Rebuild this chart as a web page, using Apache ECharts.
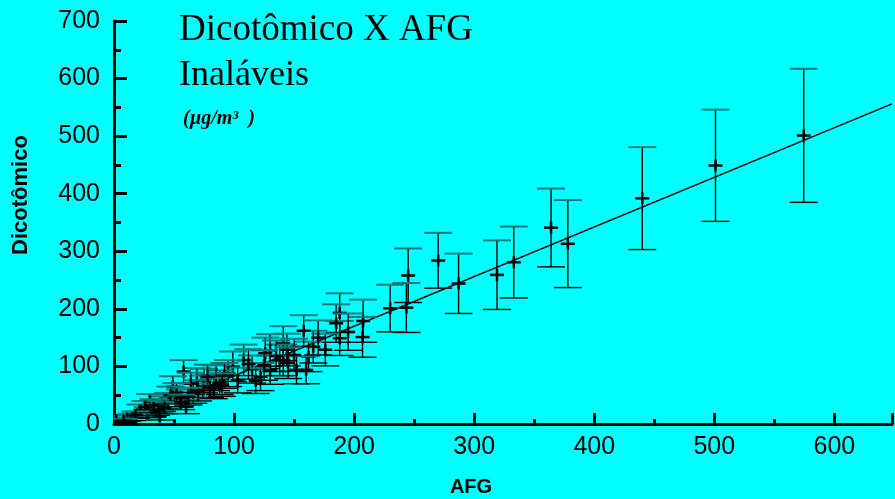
<!DOCTYPE html>
<html>
<head>
<meta charset="utf-8">
<script src="https://cdn.jsdelivr.net/npm/echarts@6/dist/echarts.min.js"></script>
<style>
html,body{margin:0;padding:0;background:#00ffff;}
#chart{width:895px;height:499px;}
</style>
</head>
<body>
<div id="chart"></div>
<script>
// AFG (x), Dicotômico (y), erro em y (±)
var afg  = [574.5, 501, 440, 378, 364, 333, 319, 287, 270, 245, 243.5, 230, 207.5, 207, 188, 188, 185, 176, 166, 162,
            158, 160, 152, 144, 141, 141, 138, 130, 126, 130, 122, 108, 99, 103, 95, 88, 80, 75, 69, 74,
            66, 58, 49, 60, 55, 45, 40, 38, 35, 30, 28, 22, 15, 11, 2, 38, 70, 85, 115, 135, 150,
            118, 112, 92, 83, 78, 64, 52, 47, 42, 33, 26, 18, 8, 90, 125, 145, 170, 195, 62, 56];
var dico = [501, 449, 392, 313, 341, 281, 259, 244, 284, 258, 202, 201, 179, 151, 193, 149, 175, 129, 134, 117,
            162, 94, 94, 129, 111, 140, 111, 128, 123, 94, 82, 111, 100, 76, 88, 72, 66, 75, 76, 65,
            53, 91, 65, 30, 45, 40, 35, 30, 25, 39, 20, 24, 12, 10, 7, 13, 58, 80, 95, 118, 120,
            75, 104, 84, 62, 82, 70, 55, 50, 28, 32, 30, 16, 6, 68, 102, 106, 150, 160, 48, 38];
var erro = [116, 97, 89, 76, 68, 62, 60, 52, 48, 47, 43, 41, 37, 35, 34, 30, 33, 28, 28, 26,
            27, 24, 24, 28, 27, 30, 27, 28, 27, 25, 24, 27, 26, 22, 23, 21, 20, 21, 21, 19,
            17, 20, 18, 12, 15, 14, 13, 12, 10, 13, 9, 10, 6, 5, 4, 6, 18, 22, 24, 27, 28,
            22, 26, 22, 18, 21, 19, 16, 15, 10, 11, 10, 6, 3, 20, 26, 27, 30, 32, 15, 13];

// reta ajustada
var fitX = [3, 648];
var fitY = [0, 556];

var xTicks = [0, 100, 200, 300, 400, 500, 600];
var yTicks = [0, 100, 200, 300, 400, 500, 600, 700];

var pontos = [];
for (var i = 0; i < afg.length; i++) {
	pontos.push([afg[i], dico[i], erro[i]]);
}
var linha = [];
for (var j = 0; j < fitX.length; j++) {
	linha.push([fitX[j], fitY[j]]);
}

function renderErrorBar(params, api) {
	var x = api.value(0), y = api.value(1), e = api.value(2);
	var c = api.coord([x, y]);
	var hi = api.coord([x, y + e]);
	var lo = api.coord([x, y - e]);
	var cap = 14;
	return {
		type: 'group',
		children: [
			{type: 'line', shape: {x1: c[0], y1: hi[1], x2: c[0], y2: lo[1]}, style: {stroke: '#000', lineWidth: 1.4}},
			{type: 'line', shape: {x1: c[0] - cap, y1: hi[1], x2: c[0] + cap, y2: hi[1]}, style: {stroke: '#067a7a', lineWidth: 2}},
			{type: 'line', shape: {x1: c[0] - cap, y1: lo[1], x2: c[0] + cap, y2: lo[1]}, style: {stroke: '#000', lineWidth: 1.4}},
			{type: 'line', shape: {x1: c[0] - 7, y1: c[1], x2: c[0] + 7, y2: c[1]}, style: {stroke: '#000', lineWidth: 2.5}},
			{type: 'line', shape: {x1: c[0], y1: c[1] - 6, x2: c[0], y2: c[1] + 6}, style: {stroke: '#000', lineWidth: 2.5}}
		]
	};
}

var chart = echarts.init(document.getElementById('chart'));
var option = {
	backgroundColor: '#00ffff',
	animation: false,
	grid: {left: 114, right: 0, top: 21, bottom: 75},
	title: [
		{text: 'Dicotômico X AFG', left: 174, top: 7,
			textStyle: {fontFamily: 'Liberation Serif', fontSize: 37, fontWeight: 'normal', color: '#000'}},
		{text: 'Inaláveis', left: 174, top: 53,
			textStyle: {fontFamily: 'Liberation Serif', fontSize: 36, fontWeight: 'normal', color: '#000'}},
		{text: '(µg/m³  )', left: 178, top: 104,
			textStyle: {fontFamily: 'Liberation Serif', fontSize: 20, fontWeight: 'bold', fontStyle: 'italic', color: '#000'}}
	],
	graphic: [
		{type: 'text', x: 21, y: 195, rotation: Math.PI / 2,
			style: {text: 'Dicotômico', font: 'bold 22px "Liberation Sans"', fill: '#000', textAlign: 'center', textVerticalAlign: 'middle'}},
		{type: 'text', x: 471, y: 487,
			style: {text: 'AFG', font: 'bold 20px "Liberation Sans"', fill: '#000', textAlign: 'center', textVerticalAlign: 'middle'}}
	],
	xAxis: {
		type: 'value', min: 0, max: 648, interval: 100,
		axisLine: {show: true, onZero: false, lineStyle: {color: '#000', width: 3}},
		axisTick: {show: true, inside: true, length: 11, lineStyle: {color: '#000', width: 3}},
		minorTick: {show: true, splitNumber: 2, length: 5, lineStyle: {color: '#000', width: 3}},
		splitLine: {show: false},
		axisLabel: {
			margin: 11, fontFamily: 'Liberation Sans', fontSize: 25, color: '#000',
			formatter: function (v) { return xTicks.indexOf(v) >= 0 ? String(v) : ''; }
		}
	},
	yAxis: {
		type: 'value', min: 0, max: 700, interval: 100,
		axisLine: {show: true, onZero: false, lineStyle: {color: '#000', width: 3}},
		axisTick: {show: true, inside: true, length: 13, lineStyle: {color: '#000', width: 3}},
		minorTick: {show: true, splitNumber: 2, length: 7, lineStyle: {color: '#000', width: 3}},
		splitLine: {show: false},
		axisLabel: {
			margin: 14, fontFamily: 'Liberation Sans', fontSize: 25, color: '#000',
			formatter: function (v) { return yTicks.indexOf(v) >= 0 ? String(v) : ''; }
		}
	},
	series: [
		{
			type: 'line',
			data: linha,
			showSymbol: false,
			lineStyle: {color: '#000', width: 1.5},
			z: 1
		},
		{
			type: 'custom',
			renderItem: renderErrorBar,
			data: pontos,
			encode: {x: 0, y: 1},
			clip: true,
			z: 2
		}
	]
};
chart.setOption(option);
</script>
</body>
</html>
